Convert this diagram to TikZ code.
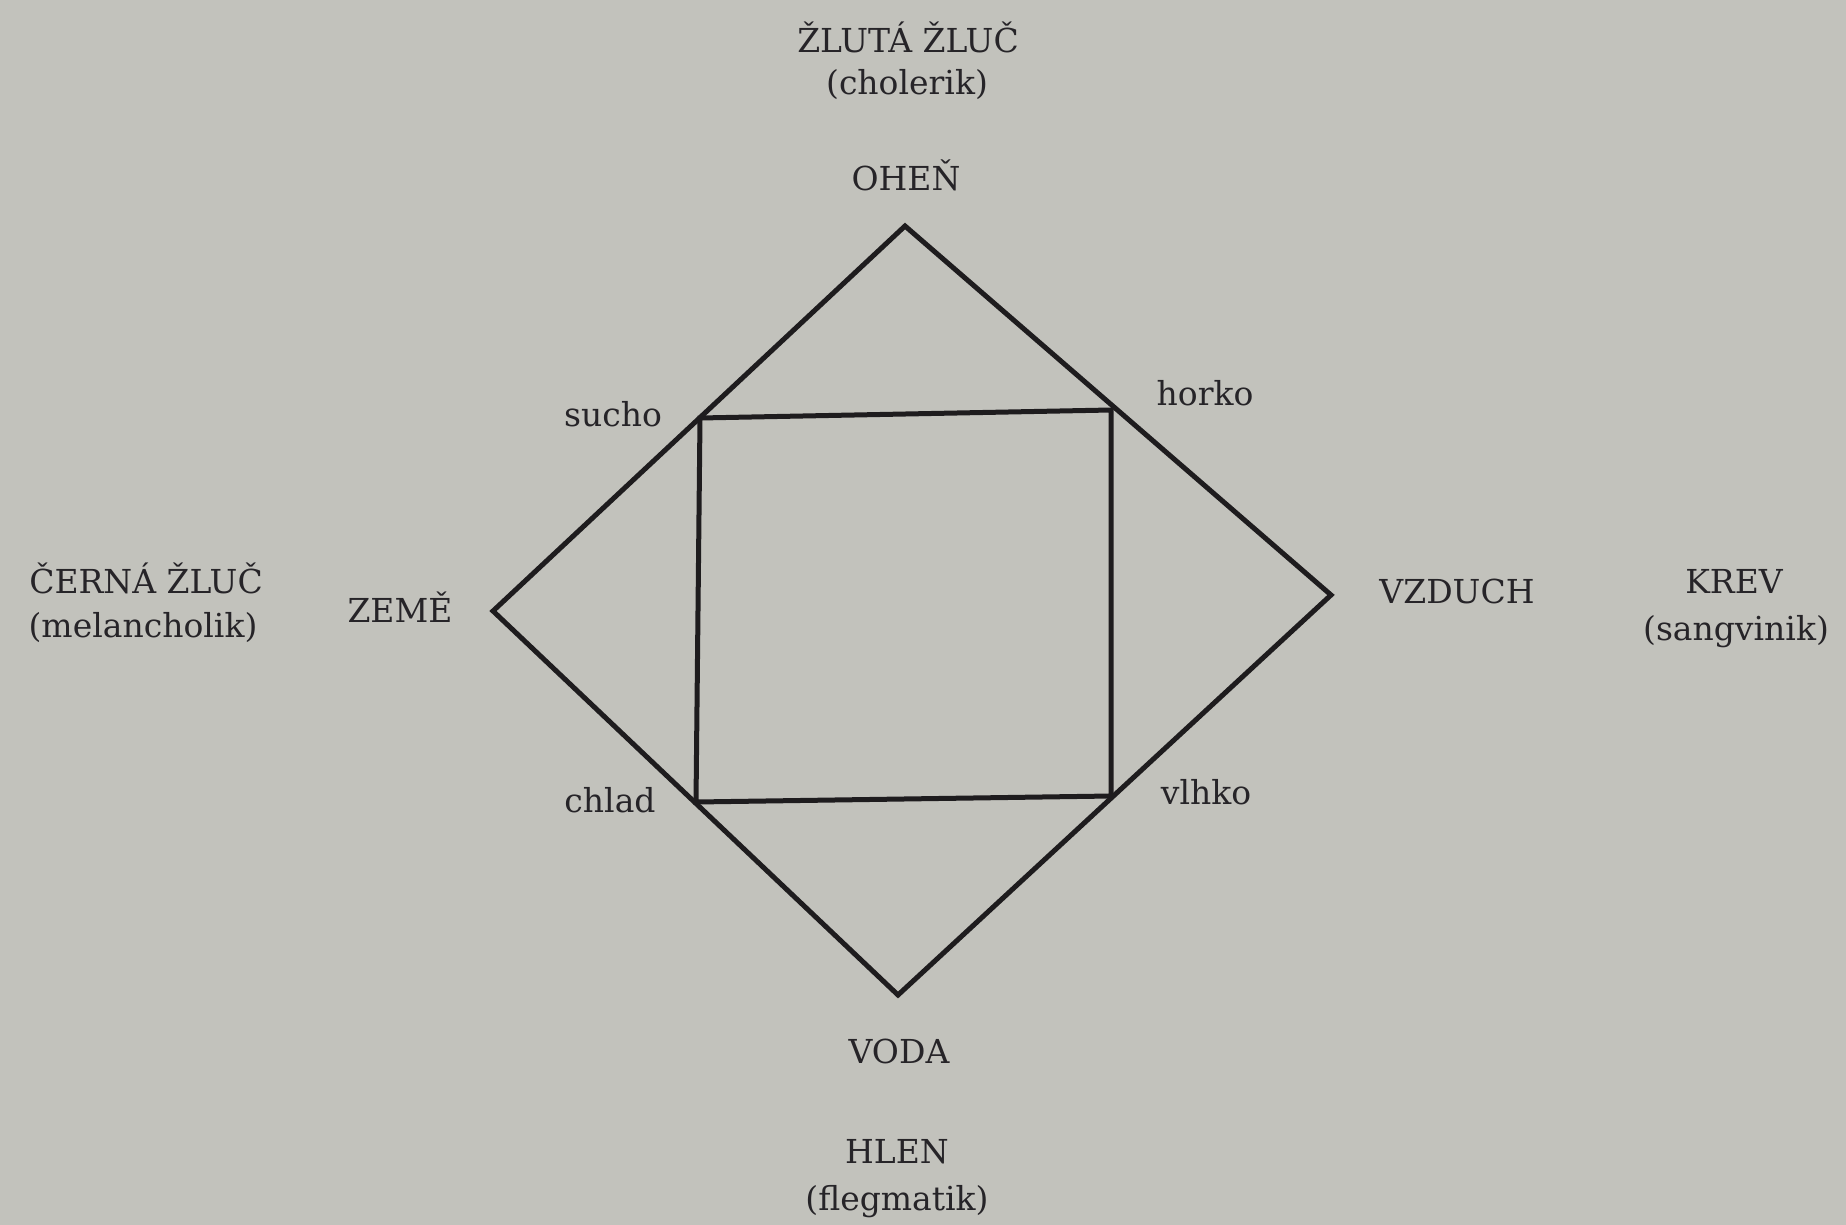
\documentclass[tikz,border=0pt]{standalone}
\usepackage{fontspec}
\setmainfont{DejaVu Serif}
\definecolor{paper}{RGB}{194,194,188}
\definecolor{ink}{RGB}{30,28,30}
\definecolor{textink}{RGB}{38,36,40}
\begin{document}
\begin{tikzpicture}[x=1pt,y=-1pt,
  lbl/.style={anchor=base,inner sep=0pt,text=textink,font=\fontsize{33}{39}\selectfont},
  edge/.style={draw=ink,line width=5pt,line join=miter}]
\fill[paper] (0,0) rectangle (1846,1225);
\useasboundingbox (0,0) rectangle (1846,1225);
% diamond vertices
\coordinate (T) at (905,226);
\coordinate (R) at (1331,595);
\coordinate (B) at (898,995);
\coordinate (L) at (493,611);
% square corners
\coordinate (S1) at (700,418);
\coordinate (S2) at (1111,410);
\coordinate (S3) at (1111,796);
\coordinate (S4) at (696,802);
\draw[edge] (T) -- (R) -- (B) -- (L) -- cycle;
\draw[edge] (S1) -- (S2) -- (S3) -- (S4) -- cycle;
% labels
\node[lbl] (zluta) at (908,53) {ŽLUTÁ ŽLUČ};
\node[lbl] (chol) at (907,95) {(cholerik)};
\node[lbl] (ohen) at (906,191) {OHEŇ};
\node[lbl] (cerna) at (146,593) {ČERNÁ ŽLUČ};
\node[lbl] (mel) at (143,637) {(melancholik)};
\node[lbl] (zeme) at (400,622) {ZEMĚ};
\node[lbl] (sucho) at (613,426) {sucho};
\node[lbl] (horko) at (1205,405) {horko};
\node[lbl] (chlad) at (610,812) {chlad};
\node[lbl] (vlhko) at (1206,804) {vlhko};
\node[lbl] (vzduch) at (1457,603) {VZDUCH};
\node[lbl] (krev) at (1734,593) {KREV};
\node[lbl] (sang) at (1736,640) {(sangvinik)};
\node[lbl] (voda) at (899,1063) {VODA};
\node[lbl] (hlen) at (897,1163) {HLEN};
\node[lbl] (fleg) at (897,1210) {(flegmatik)};
\end{tikzpicture}
\end{document}
